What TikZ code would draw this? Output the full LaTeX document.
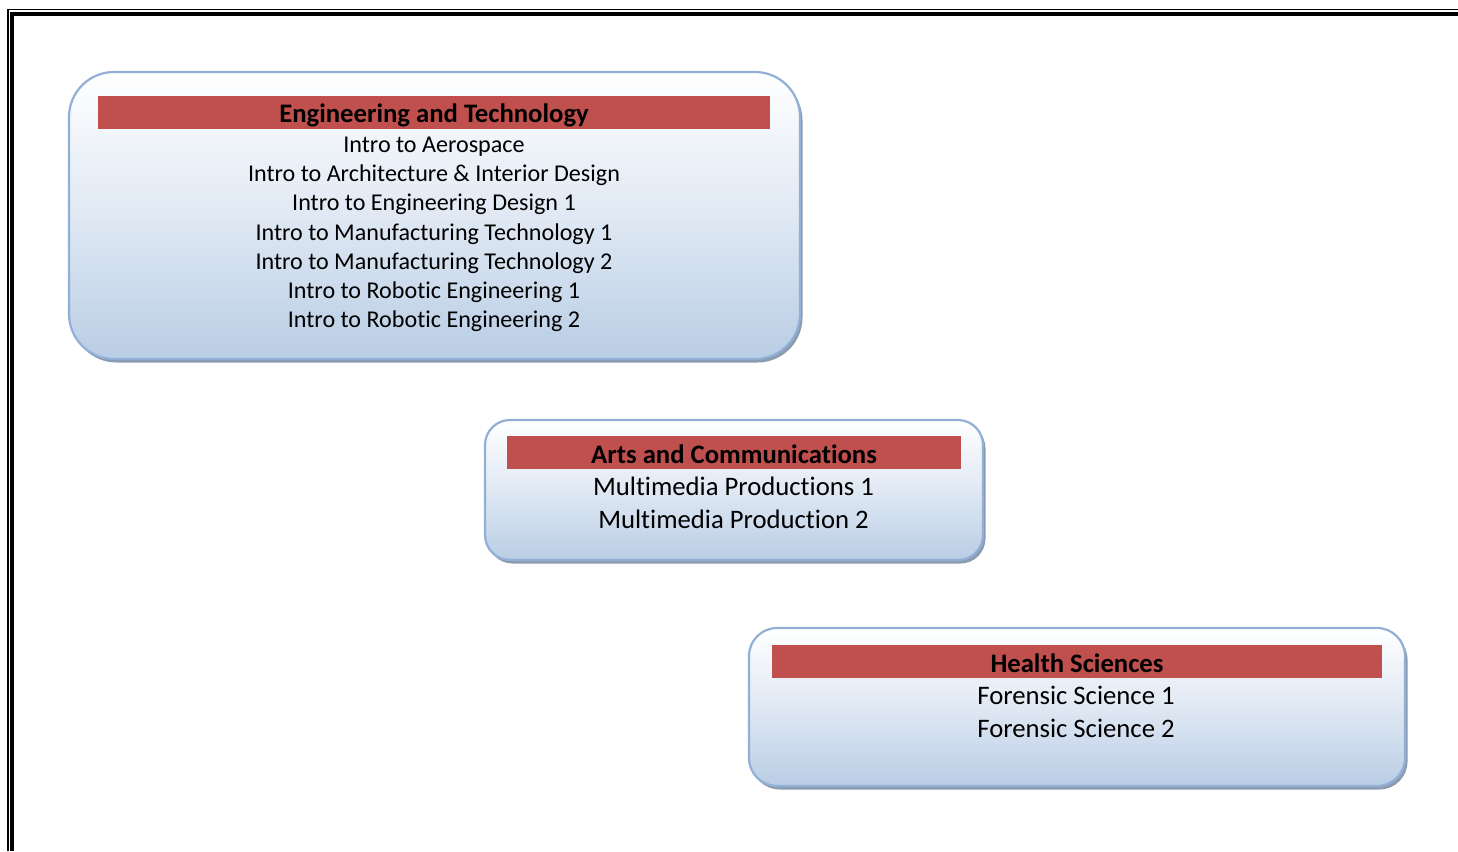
\documentclass[tikz,border=0pt]{standalone}
\usepackage{fontspec}
\setmainfont[Ligatures={NoCommon,NoRequired,NoContextual}]{Carlito}
\usetikzlibrary{shadows}
\definecolor{hdr}{HTML}{C0504D}
\definecolor{boxline}{HTML}{92B0D5}
\definecolor{boxbot}{HTML}{B9CDE5}
\definecolor{shgray}{HTML}{8B9BB0}
\tikzset{
  cluster/.style={draw=boxline, line width=2.2pt, top color=white, bottom color=boxbot,
    middle color=boxbot!45!white,
    drop shadow={shadow xshift=2.5pt, shadow yshift=-3.5pt, fill=shgray, opacity=1},
    inner sep=0pt},
  header/.style={fill=hdr, inner sep=0pt, minimum height=33pt},
  htext/.style={font=\fontsize{26.7}{30}\selectfont\bfseries, inner sep=0pt, anchor=base},
  items/.style={align=center, inner sep=0pt, anchor=base}
}
\begin{document}
\begin{tikzpicture}[x=1pt,y=-1pt]
\useasboundingbox (0,0) rectangle (1458,851);
\fill[white] (0,0) rectangle (1458,851);
% page border
\draw[line width=1.5pt] (8,851) |- (1458,9.7);
\draw[line width=4pt] (12,851) |- (1458,14);
% Engineering and Technology
\node[cluster, rounded corners=45pt, minimum width=731pt, minimum height=287pt] (b1) at (434.5,215.5) {};
\node[header, minimum width=672pt] (h1) at (434,112.5) {};
\node[htext] (t1) at (434,122.4) {Engineering and Technology};
\node[items, font=\fontsize{24.1}{29.17}\selectfont] (l1) at (434,327.6) {Intro to Aerospace\\Intro to Architecture \& Interior Design\\Intro to Engineering Design 1\\Intro to Manufacturing Technology 1\\Intro to Manufacturing Technology 2\\Intro to Robotic Engineering 1\\Intro to Robotic Engineering 2};
% Arts and Communications
\node[cluster, rounded corners=25pt, minimum width=498pt, minimum height=140pt] (b2) at (734,490) {};
\node[header, minimum width=454pt] (h2) at (734,452.5) {};
\node[htext] (t2) at (734,463.4) {Arts and Communications};
\node[items, font=\fontsize{26.7}{33}\selectfont] (l2) at (733.5,528.4) {Multimedia Productions 1\\Multimedia Production 2};
% Health Sciences
\node[cluster, rounded corners=28pt, minimum width=656pt, minimum height=158pt] (b3) at (1077,707) {};
\node[header, minimum width=610pt] (h3) at (1077,661.5) {};
\node[htext] (t3) at (1077,672.4) {Health Sciences};
\node[items, font=\fontsize{26.7}{33}\selectfont] (l3) at (1076,737.4) {Forensic Science 1\\Forensic Science 2};
\end{tikzpicture}
\end{document}
